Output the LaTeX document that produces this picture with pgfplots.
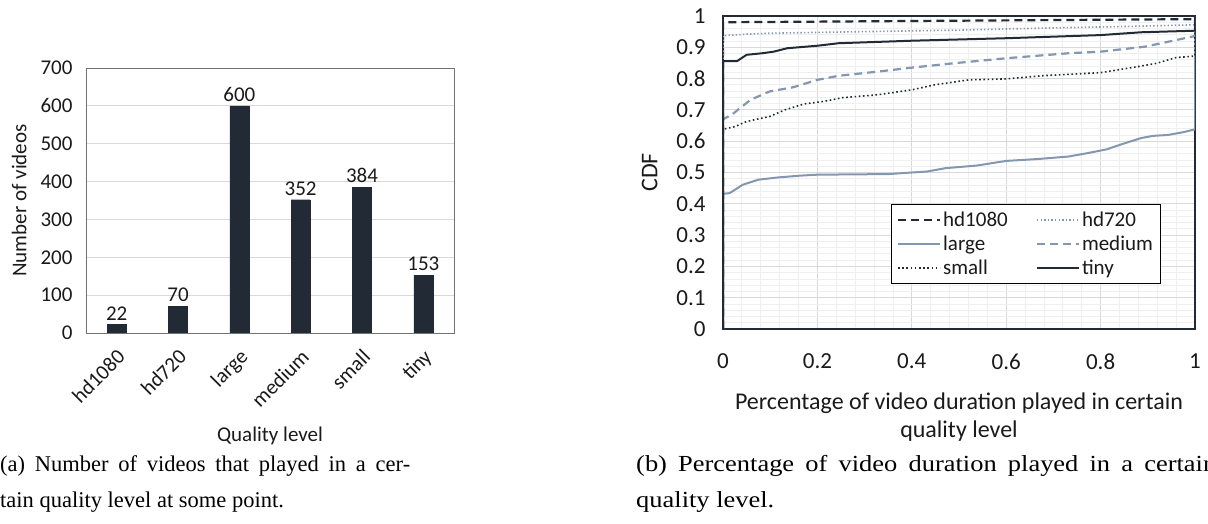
\documentclass[border=0pt]{standalone}
\usepackage{pgfplots}
\pgfplotsset{compat=1.18}
\usepackage{fontspec}
\setmainfont{Carlito}
\newfontfamily\timesfont{Liberation Serif}
\newfontfamily\timeswide[FakeStretch=1.15]{Liberation Serif}
\definecolor{navy}{HTML}{222A35}
\definecolor{bgray}{HTML}{8497B0}
\definecolor{gmaj}{HTML}{D9D9D9}
\definecolor{gmin}{HTML}{EFEFEF}
\definecolor{txt}{HTML}{1A1A1A}
\begin{document}
\begin{tikzpicture}
\useasboundingbox (0,0) rectangle (1208pt,524pt);
% ---------------- left chart
\begin{axis}[
  at={(86pt,191pt)}, anchor=south west,
  scale only axis, width=368pt, height=265pt,
  xmin=-0.5, xmax=5.5, ymin=0, ymax=700,
  xtick={0,1,2,3,4,5},
  xticklabels={hd1080,hd720,large,medium,small,tiny},
  ytick={0,100,...,700},
  major tick length=0pt,
  ymajorgrids, grid style={gmaj, line width=0.8pt},
  axis line style={black!55, line width=0.8pt},
  tick label style={font=\fontsize{21}{25}\selectfont, text=txt},
  /pgf/number format/assume math mode=true,
  xticklabel style={rotate=45, anchor=north east, inner sep=2pt, yshift=-8pt, xshift=-9pt},
  yticklabel style={xshift=-10pt},
  xlabel={Quality level}, ylabel={Number of videos},
  label style={font=\fontsize{21}{25}\selectfont, text=txt},
  xlabel style={at={(0.5,0)}, anchor=north, yshift=-90pt},
  ylabel style={at={(0,0.5)}, anchor=south, yshift=56pt},
  nodes near coords, every node near coord/.append style={font=\fontsize{21}{25}\selectfont, text=txt, yshift=1pt},
]
\addplot[ybar, bar width=19pt, fill=navy, draw=navy] coordinates {(0,22) (1,70) (2,600) (3,352) (4,384) (5,153)};
\end{axis}
% ---------------- right chart
\begin{axis}[
  at={(723pt,195pt)}, anchor=south west,
  scale only axis, width=472pt, height=313pt,
  xmin=0, xmax=1, ymin=0, ymax=1,
  xtick={0,0.2,...,1}, ytick={0,0.1,...,1},
  minor x tick num=4, minor y tick num=4,
  major tick length=0pt, minor tick length=0pt,
  xmajorgrids, ymajorgrids, xminorgrids, yminorgrids,
  major grid style={gmaj, line width=0.8pt},
  minor grid style={gmin, line width=0.8pt},
  axis line style={navy, line width=1.2pt},
  tick label style={font=\fontsize{23}{27}\selectfont, text=txt},
  /pgf/number format/assume math mode=true,
  xticklabel style={yshift=-21pt},
  yticklabel style={xshift=-14pt},
  xlabel={Percentage of video duration played in certain\\quality level},
  ylabel={CDF},
  xlabel style={font=\fontsize{24}{28}\selectfont, text=txt, align=center, at={(0.5,0)}, anchor=north, yshift=-60pt},
  ylabel style={font=\fontsize{24}{28}\selectfont, text=txt, at={(0,0.5)}, anchor=south, yshift=62pt},
  legend columns=2,
  legend cell align=left,
  legend style={at={(0.355,0.398)}, anchor=north west, draw=black, line width=0.8pt,
    font=\fontsize{21}{25}\selectfont, text=txt, row sep=4pt,
    /tikz/every odd column/.append style={column sep=0pt},
    /tikz/every even column/.append style={column sep=26pt},
    inner xsep=6pt, inner ysep=5pt},
  legend image code/.code={\draw[#1] (0pt,0pt) -- (42pt,0pt);},
]
\addplot[navy, line width=2.2pt, dash pattern=on 8pt off 5pt] coordinates {
(0,0) (0,0.980) (0.2,0.982) (0.4,0.984) (0.6,0.986) (0.8,0.988) (1,0.990) (1,1)};
\addlegendentry{hd1080}
\addplot[bgray, line width=1.6pt, dash pattern=on 1.4pt off 2.2pt] coordinates {
(0,0) (0,0.937) (0.05,0.942) (0.1,0.945) (0.3,0.950) (0.5,0.955) (0.7,0.962) (0.9,0.968) (1,0.972) (1,1)};
\addlegendentry{hd720}
\addplot[bgray, line width=2pt] coordinates {
(0,0) (0,0.432) (0.014,0.434) (0.042,0.461) (0.075,0.477) (0.115,0.484) (0.164,0.490) (0.2,0.493) (0.351,0.495) (0.4,0.500) (0.432,0.503) (0.472,0.514) (0.537,0.522) (0.6,0.537) (0.667,0.543) (0.732,0.551) (0.773,0.562) (0.813,0.574) (0.846,0.591) (0.886,0.610) (0.911,0.617) (0.943,0.620) (0.976,0.629) (1,0.638) (1,1)};
\addlegendentry{large}
\addplot[bgray, line width=2.2pt, dash pattern=on 8pt off 5pt] coordinates {
(0,0) (0,0.670) (0.018,0.684) (0.058,0.732) (0.099,0.759) (0.148,0.772) (0.2,0.796) (0.245,0.809) (0.326,0.822) (0.4,0.835) (0.489,0.849) (0.6,0.865) (0.732,0.881) (0.8,0.886) (0.894,0.902) (1,0.936) (1,1)};
\addlegendentry{medium\hspace{10pt}}
\addplot[navy, line width=1.6pt, dash pattern=on 1.6pt off 2.6pt] coordinates {
(0,0) (0,0.638) (0.026,0.647) (0.05,0.663) (0.099,0.679) (0.131,0.700) (0.172,0.719) (0.213,0.727) (0.253,0.739) (0.326,0.748) (0.4,0.764) (0.448,0.780) (0.521,0.796) (0.6,0.799) (0.675,0.809) (0.8,0.819) (0.878,0.838) (0.919,0.849) (0.959,0.867) (1,0.872) (1,1)};
\addlegendentry{small}
\addplot[navy, line width=2pt] coordinates {
(0,0) (0,0.856) (0.03,0.856) (0.05,0.876) (0.083,0.881) (0.107,0.886) (0.136,0.897) (0.2,0.905) (0.245,0.913) (0.4,0.921) (0.6,0.929) (0.8,0.939) (0.886,0.948) (1,0.953) (1,1)};
\addlegendentry{tiny}
\end{axis}
% ---------------- captions
\node[anchor=base west, inner sep=0pt, font=\timesfont\fontsize{22.5}{27}\selectfont] at (0pt,52pt) {\makebox[410pt][s]{(a) Number of videos that played in a cer-}};
\node[anchor=base west, inner sep=0pt, font=\timesfont\fontsize{22.5}{27}\selectfont] at (0pt,16pt) {tain quality level at some point.};
\node[anchor=base west, inner sep=0pt, font=\timeswide\fontsize{23}{27}\selectfont] at (636pt,52pt) {\makebox[580pt][s]{(b) Percentage of video duration played in a certain}};
\node[anchor=base west, inner sep=0pt, font=\timeswide\fontsize{23}{27}\selectfont] at (636pt,16pt) {quality level.};
\end{tikzpicture}
\end{document}
